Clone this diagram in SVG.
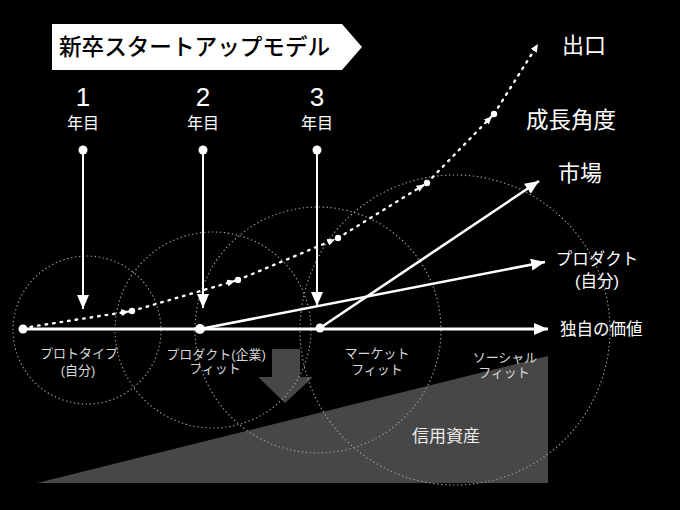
<svg xmlns="http://www.w3.org/2000/svg" width="680" height="510" viewBox="0 0 680 510">
<defs>
<style>
text{font-family:"Liberation Sans","Noto Sans CJK JP",sans-serif;fill:#fff}
.big{font-size:22px}
.mid{font-size:16.5px}
.small{font-size:13px;fill:#d8d8d8}
.yr{font-size:26px}
.yl{font-size:16px}
.ring{fill:none;stroke:#a0a0a0;stroke-width:1.1;stroke-dasharray:1.4 2.6}
.ln{stroke:#fff;fill:none}
.dot{fill:#fff}
.dl{stroke:#fff;stroke-width:2.4;stroke-dasharray:1.6 6;stroke-linecap:round;fill:none}
</style>
<marker id="ah" viewBox="0 0 14 12" refX="14" refY="6" markerWidth="14" markerHeight="12" markerUnits="userSpaceOnUse" orient="auto"><path d="M0,0 L14,6 L0,12 z" fill="#fff"/></marker>
<marker id="sah" viewBox="0 0 8 7" refX="11" refY="3.5" markerWidth="8" markerHeight="7" markerUnits="userSpaceOnUse" orient="auto"><path d="M0,0 L8,3.5 L0,7 z" fill="#fff"/></marker>
<marker id="eah" viewBox="0 0 8 7" refX="8" refY="3.5" markerWidth="8" markerHeight="7" markerUnits="userSpaceOnUse" orient="auto"><path d="M0,0 L8,3.5 L0,7 z" fill="#fff"/></marker>
</defs>
<rect width="680" height="510" fill="#000"/>
<g id="credit-area">
<polygon points="37,483 548,356 548,483" fill="#474747"/>
<polygon points="272,349 300,349 300,377 313,377 285,403 258,377 272,377" fill="#474747"/>
<text x="412" y="442" style="font-size:17px;fill:#ececec">信用資産</text>
</g>
<g id="rings">
<circle class="ring" cx="87" cy="330" r="74"/>
<circle class="ring" cx="213" cy="330" r="98"/>
<circle class="ring" cx="318" cy="330" r="123"/>
<circle class="ring" cx="455" cy="330" r="155"/>
</g>
<g id="title">
<polygon points="52,24 342,24 362,47 342,70 52,70" fill="#fff"/>
<text x="59" y="55" style="font-size:22.6px;font-weight:500;fill:#000">新卒スタートアップモデル</text>
</g>
<g id="connectors">
<line class="ln" x1="83" y1="150" x2="83" y2="309" stroke-width="2" marker-end="url(#ah)"/>
<line class="ln" x1="203" y1="150" x2="203" y2="308" stroke-width="2" marker-end="url(#ah)"/>
<line class="ln" x1="317" y1="150" x2="317" y2="306" stroke-width="2" marker-end="url(#ah)"/>
<line class="ln" x1="23" y1="329" x2="548" y2="329" stroke-width="3" marker-end="url(#ah)"/>
<line class="ln" x1="200" y1="329" x2="545" y2="262" stroke-width="2.6" marker-end="url(#ah)"/>
<line class="ln" x1="320" y1="328" x2="539" y2="181" stroke-width="2.6" marker-end="url(#ah)"/>
<line class="dl" x1="23" y1="328" x2="132" y2="311" marker-end="url(#sah)"/>
<line class="dl" x1="132" y1="311" x2="238" y2="280" marker-end="url(#sah)"/>
<line class="dl" x1="238" y1="280" x2="338" y2="238" marker-end="url(#sah)"/>
<line class="dl" x1="338" y1="238" x2="427" y2="183" marker-end="url(#sah)"/>
<line class="dl" x1="427" y1="183" x2="494" y2="114" marker-end="url(#sah)"/>
<line class="dl" x1="494" y1="114" x2="538" y2="44" marker-end="url(#eah)"/>
</g>
<g id="dots">
<circle class="dot" cx="83" cy="150" r="4.5"/>
<circle class="dot" cx="203" cy="150" r="4.5"/>
<circle class="dot" cx="317" cy="150" r="4.5"/>
<circle class="dot" cx="23" cy="329" r="4.5"/>
<circle class="dot" cx="200" cy="329" r="5"/>
<circle class="dot" cx="320" cy="328" r="4.5"/>
<circle class="dot" cx="132" cy="311" r="3.2"/>
<circle class="dot" cx="238" cy="280" r="3.2"/>
<circle class="dot" cx="338" cy="238" r="3.2"/>
<circle class="dot" cx="427" cy="183" r="3.2"/>
<circle class="dot" cx="494" cy="114" r="3.2"/>
</g>
<g id="years" text-anchor="middle">
<text class="yr" x="83" y="106">1</text>
<text class="yl" x="83" y="129">年目</text>
<text class="yr" x="203" y="106">2</text>
<text class="yl" x="203" y="129">年目</text>
<text class="yr" x="317" y="106">3</text>
<text class="yl" x="317" y="129">年目</text>
</g>
<g id="right-labels">
<text class="big" x="562" y="53">出口</text>
<text class="big" x="526" y="128" style="font-size:22.5px">成長角度</text>
<text class="big" x="558" y="181">市場</text>
<text class="mid" x="597" y="265" text-anchor="middle">プロダクト</text>
<text class="mid" x="597" y="287" text-anchor="middle">(自分)</text>
<text class="mid" x="560" y="335">独自の価値</text>
</g>
<g id="stage-labels" text-anchor="middle">
<text class="small" x="79" y="358">プロトタイプ</text>
<text class="small" x="78" y="375">(自分)</text>
<text class="small" x="216" y="359">プロダクト(企業)</text>
<text class="small" x="215" y="373">フィット</text>
<text class="small" x="377" y="358">マーケット</text>
<text class="small" x="377" y="374">フィット</text>
<text class="small" x="505" y="362">ソーシャル</text>
<text class="small" x="504" y="377">フィット</text>
</g>
</svg>
